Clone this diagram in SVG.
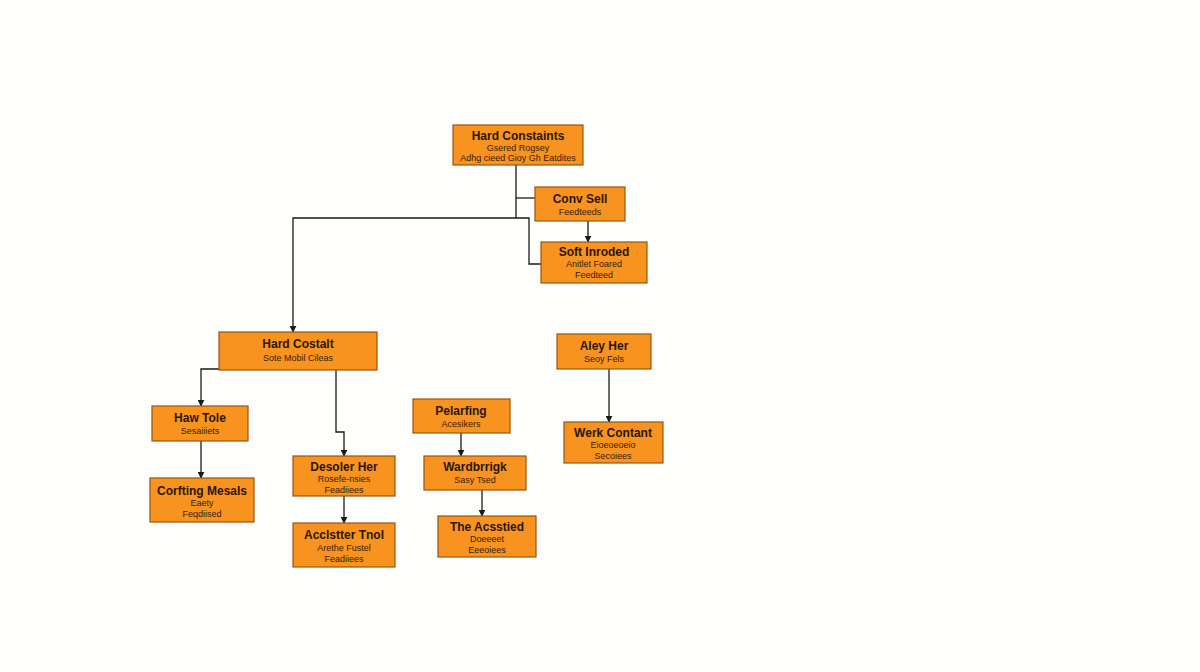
<svg xmlns="http://www.w3.org/2000/svg" width="1200" height="672" viewBox="0 0 1200 672">
<defs>
<marker id="ah" viewBox="0 0 10 10" refX="9" refY="5" markerWidth="7" markerHeight="7" orient="auto" markerUnits="userSpaceOnUse"><path d="M0,0 L10,5 L0,10 z" fill="#1a1a1a"/></marker>
<style>
.box{fill:#f7931e;stroke:#9a5410;stroke-width:1.2}
.t{font-family:"Liberation Sans",Arial,sans-serif;font-size:12px;font-weight:bold;fill:#2a1605;text-anchor:middle}
.s{font-family:"Liberation Sans",Arial,sans-serif;font-size:9px;fill:#3a2008;text-anchor:middle}
.c{fill:none;stroke:#1a1a1a;stroke-width:1.3}
</style>
</defs>
<rect width="1200" height="672" fill="#fefefd"/>
<g id="connectors">
<path class="c" d="M516,165 V218"/>
<path class="c" d="M516,198 H535"/>
<path class="c" d="M516,218 H293 V332" marker-end="url(#ah)"/>
<path class="c" d="M516,218 H529 V264 H541"/>
<path class="c" d="M588,221 V242" marker-end="url(#ah)"/>
<path class="c" d="M220,369 H201 V406" marker-end="url(#ah)"/>
<path class="c" d="M336,370 V432 H344 V456" marker-end="url(#ah)"/>
<path class="c" d="M201,441 V478" marker-end="url(#ah)"/>
<path class="c" d="M344,496 V523" marker-end="url(#ah)"/>
<path class="c" d="M461,433 V456" marker-end="url(#ah)"/>
<path class="c" d="M482,490 V516" marker-end="url(#ah)"/>
<path class="c" d="M609,369 V422" marker-end="url(#ah)"/>
</g>
<g id="n1"><rect class="box" x="453" y="125" width="130" height="40"/>
<text class="t" x="518" y="140">Hard Constaints</text>
<text class="s" x="518" y="151">Gsered Rogsey</text>
<text class="s" x="518" y="161">Adhg cieed Gioy Gh Eatdites</text></g>
<g id="n2"><rect class="box" x="535" y="187" width="90" height="34"/>
<text class="t" x="580" y="203">Conv Sell</text>
<text class="s" x="580" y="215">Feedteeds</text></g>
<g id="n3"><rect class="box" x="541" y="242" width="106" height="41"/>
<text class="t" x="594" y="256">Soft Inroded</text>
<text class="s" x="594" y="267">Anitlet Foared</text>
<text class="s" x="594" y="278">Feedteed</text></g>
<g id="n4"><rect class="box" x="219" y="332" width="158" height="38"/>
<text class="t" x="298" y="348">Hard Costalt</text>
<text class="s" x="298" y="361">Sote Mobil Cileas</text></g>
<g id="n5"><rect class="box" x="152" y="406" width="96" height="35"/>
<text class="t" x="200" y="422">Haw Tole</text>
<text class="s" x="200" y="434">Sesaiiiets</text></g>
<g id="n6"><rect class="box" x="150" y="478" width="104" height="44"/>
<text class="t" x="202" y="495">Corfting Mesals</text>
<text class="s" x="202" y="506">Eaety</text>
<text class="s" x="202" y="517">Feqdiised</text></g>
<g id="n7"><rect class="box" x="293" y="456" width="102" height="40"/>
<text class="t" x="344" y="471">Desoler Her</text>
<text class="s" x="344" y="482">Rosefe-nsies</text>
<text class="s" x="344" y="493">Feadiiees</text></g>
<g id="n8"><rect class="box" x="293" y="523" width="102" height="44"/>
<text class="t" x="344" y="539">Acclstter Tnol</text>
<text class="s" x="344" y="551">Arethe Fustel</text>
<text class="s" x="344" y="562">Feadiiees</text></g>
<g id="n9"><rect class="box" x="413" y="399" width="97" height="34"/>
<text class="t" x="461" y="415">Pelarfing</text>
<text class="s" x="461" y="427">Acesikers</text></g>
<g id="n10"><rect class="box" x="424" y="456" width="102" height="34"/>
<text class="t" x="475" y="471">Wardbrrigk</text>
<text class="s" x="475" y="483">Sasy Tsed</text></g>
<g id="n11"><rect class="box" x="438" y="516" width="98" height="41"/>
<text class="t" x="487" y="531">The Acsstied</text>
<text class="s" x="487" y="542">Doeeeet</text>
<text class="s" x="487" y="553">Eeeoiees</text></g>
<g id="n12"><rect class="box" x="557" y="334" width="94" height="35"/>
<text class="t" x="604" y="350">Aley Her</text>
<text class="s" x="604" y="362">Seoy Fels</text></g>
<g id="n13"><rect class="box" x="564" y="422" width="99" height="41"/>
<text class="t" x="613" y="437">Werk Contant</text>
<text class="s" x="613" y="448">Eioeoeoeio</text>
<text class="s" x="613" y="459">Secoiees</text></g>
</svg>
